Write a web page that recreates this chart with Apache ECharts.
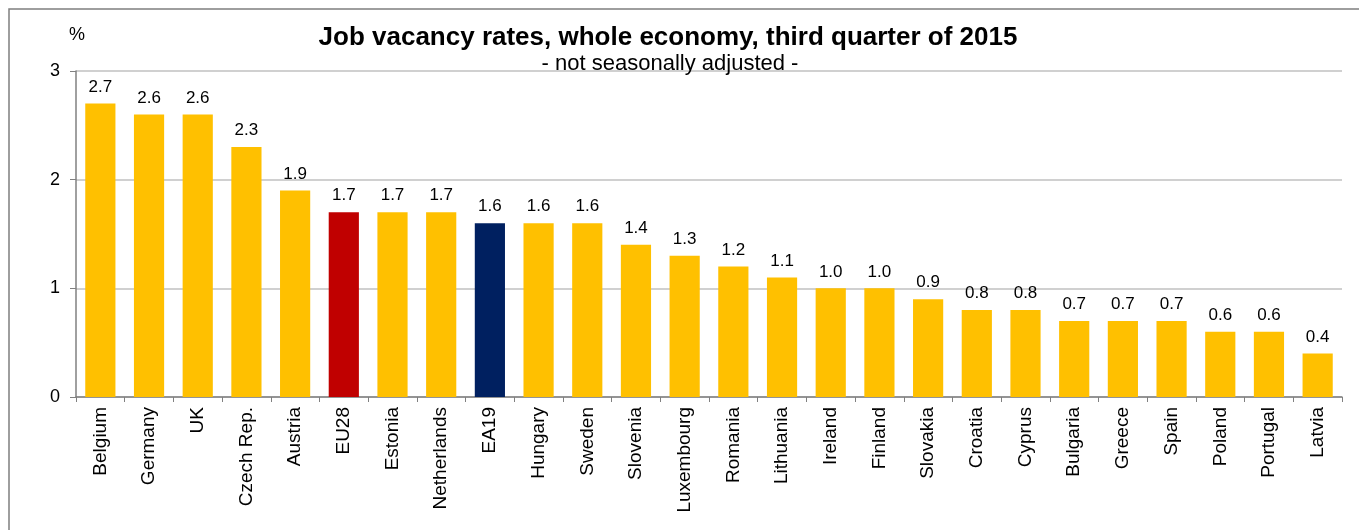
<!DOCTYPE html>
<html><head><meta charset="utf-8">
<script src="https://cdn.jsdelivr.net/npm/echarts@6/dist/echarts.min.js"></script>
<style>html,body{margin:0;padding:0;background:#fff}#c{width:1359px;height:530px}</style>
</head><body><div id="c"></div>
<script>
const categories = ["Belgium","Germany","UK","Czech Rep.","Austria","EU28","Estonia","Netherlands","EA19","Hungary","Sweden","Slovenia","Luxembourg","Romania","Lithuania","Ireland","Finland","Slovakia","Croatia","Cyprus","Bulgaria","Greece","Spain","Poland","Portugal","Latvia"];
const values = [2.7,2.6,2.6,2.3,1.9,1.7,1.7,1.7,1.6,1.6,1.6,1.4,1.3,1.2,1.1,1.0,1.0,0.9,0.8,0.8,0.7,0.7,0.7,0.6,0.6,0.4];
const yTicks = [0,1,2,3];
const colorMap = {"EU28":"#C00000","EA19":"#002060"};
const font = "Liberation Sans, Arial, sans-serif";
const chart = echarts.init(document.getElementById('c'));
chart.setOption({
  animation:false,
  graphic:[{type:'rect',shape:{x:9,y:9,width:1500,height:700},style:{fill:'none',stroke:'#7f7f7f',lineWidth:1.5},silent:true}],
  title:[
    {text:'Job vacancy rates, whole economy, third quarter of 2015',left:663,top:20,textAlign:'center',textStyle:{fontFamily:font,fontSize:26,fontWeight:'bold',color:'#000'}},
    {text:'- not seasonally adjusted -',left:665,top:48,textAlign:'center',textStyle:{fontFamily:font,fontSize:22,fontWeight:'normal',color:'#000'}},
    {text:'%',left:64,top:21,textStyle:{fontFamily:font,fontSize:18,fontWeight:'normal',color:'#000'}}
  ],
  grid:{left:76,right:17,top:71,bottom:133,containLabel:false},
  xAxis:{type:'category',data:categories,
    axisLine:{lineStyle:{color:'#808080',width:1.5}},
    axisTick:{show:true,length:5,lineStyle:{color:'#808080'}},
    axisLabel:{rotate:90,fontFamily:font,fontSize:19,color:'#000',margin:10,interval:0}},
  yAxis:{type:'value',min:0,max:3,interval:1,
    axisLine:{show:true,lineStyle:{color:'#808080',width:1.5}},
    axisTick:{show:true,length:6,lineStyle:{color:'#808080'}},
    splitLine:{lineStyle:{color:'#c0c0c0',width:1.5}},
    axisLabel:{fontFamily:font,fontSize:18,color:'#000',margin:16,formatter:v=>yTicks.includes(v)?String(v):''}},
  series:[{type:'bar',barCategoryGap:'38%',
    data:values.map((v,i)=>({value:v,itemStyle:{color:colorMap[categories[i]]||'#FFC000'}})),
    label:{show:true,position:'top',distance:8,fontFamily:font,fontSize:17,color:'#000',formatter:p=>p.value.toFixed(1)}}]
});
</script></body></html>
